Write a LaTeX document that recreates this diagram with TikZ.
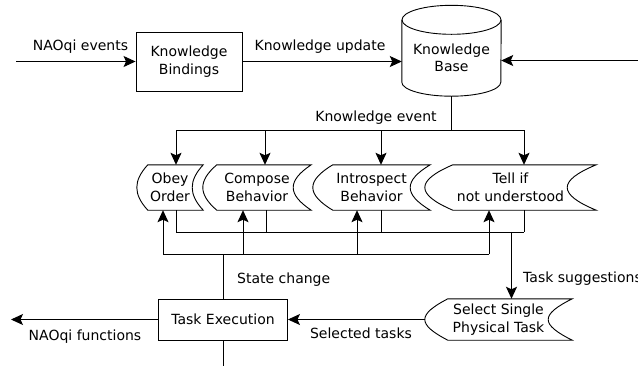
\documentclass[tikz,border=0pt]{standalone}
\usepackage{fontspec}
\setmainfont{DejaVu Sans}
\usetikzlibrary{arrows.meta,calc}
\tikzset{
  ln/.style={line width=0.9pt},
  thk/.style={line width=1.4pt},
  arr/.style={ln, -{Stealth[length=12pt,width=11pt,inset=2.5pt]}},
  txt/.style={font=\fontsize{14}{17.5}\selectfont},
  boxnode/.style={txt, draw, line width=0.9pt, align=center, inner sep=0pt},
  shp/.style={txt, align=center, inner sep=0pt},
  lbl/.style={txt, anchor=base, inner sep=0pt},
}
\newcommand\tapeshape[3]{%
  \draw[ln] ($(#1.north west)+(#2,0)$) -- (#1.north east)
    .. controls ($(#1.north east)+({-1.333*#3},16)$) and ($(#1.south east)+({-1.333*#3},-16)$) .. (#1.south east)
    -- ($(#1.south west)+(#2,0)$)
    .. controls ($(#1.south west)+({#2-1.333*#2},-16)$) and ($(#1.north west)+({#2-1.333*#2},16)$) .. ($(#1.north west)+(#2,0)$) -- cycle;}
\begin{document}
\begin{tikzpicture}[x=1pt,y=-1pt]
\useasboundingbox (0,0) rectangle (638,365);
% nodes
\node[boxnode, minimum width=106pt, minimum height=59pt] (kbind) at (189,61.5) {Knowledge\\Bindings};
\node[shp, minimum width=99pt, minimum height=76pt] (kb) at (451.5,58) {Knowledge\\Base};
\draw[ln] (kb.north west) -- ([yshift=14pt]kb.south west) arc[start angle=180,end angle=360,x radius=49.5pt,y radius=14pt] -- (kb.north east);
\draw[ln] (kb.north) ellipse[x radius=49.5pt,y radius=14.5pt];

\node[shp, minimum width=66pt, minimum height=45pt] (obey) at (170,187.5) {Obey\\Order};
\node[shp, minimum width=108pt, minimum height=45pt] (comp) at (257,187.5) {Compose\\Behavior};
\node[shp, minimum width=117pt, minimum height=45pt] (intr) at (371.5,187.5) {Introspect\\Behavior};
\node[shp, minimum width=171pt, minimum height=45pt] (tell) at (510.5,187.5) {Tell if\\not understood};
\node[shp, minimum width=147pt, minimum height=41pt] (sel) at (498.5,319.5) {Select Single\\Physical Task};
\tapeshape{obey}{11}{11}
\tapeshape{comp}{14}{18}
\tapeshape{intr}{20}{20}
\tapeshape{tell}{28}{29}
\tapeshape{sel}{23}{24}
\node[boxnode, minimum width=129pt, minimum height=41pt] (te) at (223,319.5) {Task Execution};

% top connectors
\coordinate (ein) at (16,61.5);
\draw[arr] (ein) -- (kbind.west);
\draw[arr] (kbind.east) -- (kbind.east -| kb.west);
\coordinate (rin) at (638,60.5);
\draw[arr] (rin) -- (rin -| kb.east);

% knowledge event bus
\coordinate (ev) at (451.5,130);
\draw[thk] (kb.south) -- (ev);
\coordinate (e1) at (176,130);
\coordinate (e2) at (265,130);
\coordinate (e3) at (381,130);
\coordinate (e4) at (524,130);
\draw[ln] (e1) -- (e4);
\foreach \c/\n in {e1/obey,e2/comp,e3/intr,e4/tell} \draw[arr] (\c) -- (\c |- \n.north);

% task suggestion bus
\coordinate (b1) at (176,232);
\coordinate (b2) at (266,232);
\coordinate (b3) at (381,232);
\coordinate (b4) at (524,232);
\foreach \c/\n in {b1/obey,b2/comp,b3/intr,b4/tell} \draw[ln] (\c |- \n.south) -- (\c);
\draw[ln] (b1) -- (b4);
\coordinate (bs) at (511.5,232);
\draw[arr, thk] (bs) -- (bs |- sel.north);

% state change bus
\coordinate (s1) at (163,254);
\coordinate (s2) at (243,254);
\coordinate (s3) at (357,254);
\coordinate (s4) at (489,254);
\draw[ln] (te.north) -- (te.north |- s1);
\draw[ln] (s1) -- (s4);
\foreach \c/\n in {s1/obey,s2/comp,s3/intr,s4/tell} \draw[arr] (\c) -- (\c |- \n.south);

% bottom
\coordinate (tout) at (223,366);
\draw[ln] (te.south) -- (tout);
\draw[arr] (sel.west) -- (te.east);
\coordinate (fout) at (11,319.5);
\draw[arr] (te.west) -- (fout);

% labels
\node[lbl] (l1) at (80.5,50.5) {NAOqi events};
\node[lbl] (l2) at (320,50.5) {Knowledge update};
\node[lbl] (l3) at (376,121) {Knowledge event};
\node[lbl, anchor=base west] (l4) at (237,283.5) {State change};
\node[lbl, anchor=base west] (l5) at (523,282.5) {Task suggestions};
\node[lbl] (l6) at (361,338.5) {Selected tasks};
\node[lbl] (l7) at (85,340.5) {NAOqi functions};
\end{tikzpicture}
\end{document}
